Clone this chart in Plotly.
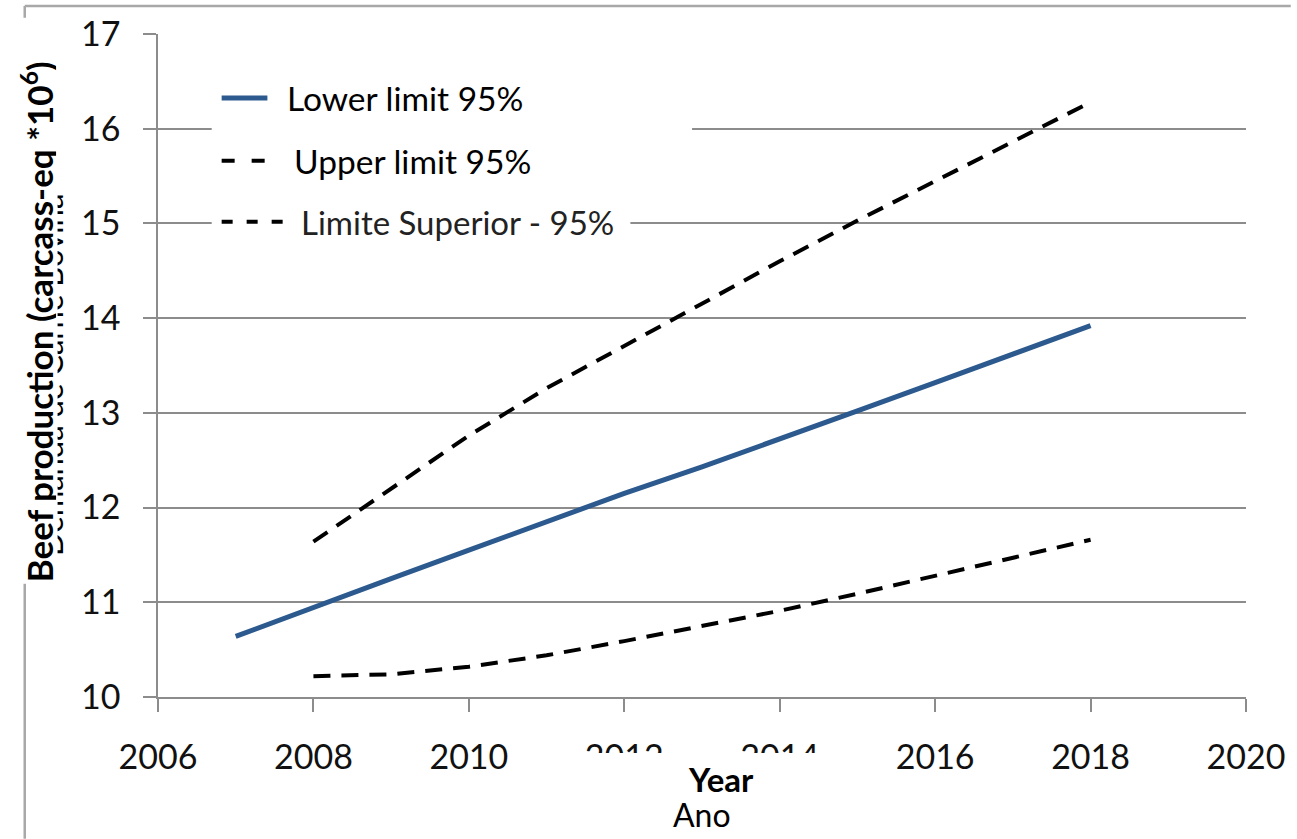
import plotly.graph_objects as go

# Projected beef production, 95% interval bounds (carcass-eq, millions)
years_mid = [2007, 2008, 2009, 2010, 2011, 2012, 2013, 2014, 2015, 2016, 2017, 2018]
mid_values = [10.64, 10.95, 11.25, 11.55, 11.85, 12.15, 12.43, 12.72, 13.02, 13.32, 13.62, 13.92]

years_band = [2008, 2009, 2010, 2011, 2012, 2013, 2014, 2015, 2016, 2017, 2018]
upper_values = [11.64, 12.20, 12.76, 13.26, 13.71, 14.16, 14.60, 15.03, 15.45, 15.86, 16.28]
lower_values = [10.22, 10.24, 10.32, 10.44, 10.59, 10.75, 10.91, 11.09, 11.28, 11.47, 11.66]

x_ticks = [2006, 2008, 2010, 2012, 2014, 2016, 2018, 2020]
y_ticks = [10, 11, 12, 13, 14, 15, 16, 17]

legend_labels = ["Lower limit 95%", "Upper limit 95%", "Limite Superior - 95%"]

W, H = 1297, 839
L, R, T, B = 158, 45, 33, 142
PW, PH = W - L - R, H - T - B

def px(x):
    return (x - L) / PW

def py(y):
    return (H - B - y) / PH

BLUE = "#2C5A8E"
GRID = "#8c8c8c"
TEXT_FONT = "Lato"

fig = go.Figure()
fig.add_trace(go.Scatter(x=years_mid, y=mid_values, mode="lines",
                         line=dict(color=BLUE, width=5), showlegend=False))
fig.add_trace(go.Scatter(x=years_band, y=upper_values, mode="lines",
                         line=dict(color="black", width=4, dash="17px,11px"), showlegend=False))
fig.add_trace(go.Scatter(x=years_band, y=lower_values, mode="lines",
                         line=dict(color="black", width=4, dash="17px,11px"), showlegend=False))

def rect(x0, x1, y0, y1):
    return dict(type="rect", xref="paper", yref="paper", x0=px(x0), x1=px(x1), y0=py(y0), y1=py(y1),
                fillcolor="white", line=dict(width=0), layer="above")

def seg(x0, x1, y, color, width, dash="solid"):
    return dict(type="line", xref="paper", yref="paper", x0=px(x0), x1=px(x1), y0=py(y), y1=py(y),
                line=dict(color=color, width=width, dash=dash), layer="above")

shapes = [
    # frame lines around the chart
    seg(24, 1297, 5, "#a8a8a8", 2.5),
    dict(type="line", xref="paper", yref="paper", x0=px(24), x1=px(24), y0=py(5), y1=py(839),
         line=dict(color="#a8a8a8", width=2.5), layer="above"),
    # legend backgrounds
    rect(212, 695, 70, 190),
    rect(212, 633, 200, 245),
    # legend glyphs
    seg(222, 268, 97, BLUE, 5),
    seg(222, 268, 160, "black", 4, "13px,17px"),
    seg(222, 290, 221, "black", 4, "11px,14px"),
    # panel behind the English x title
    rect(582, 832, 753, 797),
]

def note(**kw):
    base = dict(xref="paper", yref="paper", showarrow=False)
    base.update(kw)
    return base

annotations = [
    # legend labels
    note(text=legend_labels[0], x=px(286), y=py(97), xanchor="left", yanchor="middle",
         font=dict(family=TEXT_FONT, size=33.5, color="black")),
    note(text=legend_labels[1], x=px(293), y=py(160), xanchor="left", yanchor="middle",
         font=dict(family=TEXT_FONT, size=33.5, color="black")),
    note(text=legend_labels[2], x=px(300), y=py(221), xanchor="left", yanchor="middle",
         font=dict(family=TEXT_FONT, size=33, color="#222222")),
    # axis titles (Portuguese underneath, English on top)
    note(text="Demanda de Carne Bovina", x=px(51), y=py(375), xanchor="center", yanchor="middle",
         textangle=-90, font=dict(family=TEXT_FONT, size=31, color="black")),
    note(text="<b>Beef production (carcass-eq *10<sup>6</sup>)</b>", x=px(36), y=py(300),
         xanchor="center", yanchor="middle", textangle=-90, width=563, height=38, align="left",
         bgcolor="white", font=dict(family=TEXT_FONT, size=35, color="black")),
    note(text="Ano", x=px(705), y=py(815), xanchor="center", yanchor="middle",
         font=dict(family=TEXT_FONT, size=32, color="black")),
    note(text="<b>Year</b>", x=px(724), y=py(779), xanchor="center", yanchor="middle",
         font=dict(family=TEXT_FONT, size=33, color="black")),
]

axis_common = dict(showline=True, linecolor=GRID, linewidth=1.5, ticks="outside", ticklen=13,
                   tickwidth=1.5, tickcolor=GRID, zeroline=False,
                   tickfont=dict(family=TEXT_FONT, size=34, color="#111111"))

fig.update_layout(
    width=W, height=H, margin=dict(l=L, r=R, t=T, b=B),
    paper_bgcolor="white", plot_bgcolor="white",
    xaxis=dict(range=[2006, 2020], tickvals=x_ticks, showgrid=False, ticklabelstandoff=16,
               **axis_common),
    yaxis=dict(range=[10, 17], tickvals=y_ticks, showgrid=True, gridcolor=GRID, gridwidth=1.5,
               ticklabelstandoff=16, **axis_common),
    shapes=shapes, annotations=annotations,
)

fig.write_html("out.html")
